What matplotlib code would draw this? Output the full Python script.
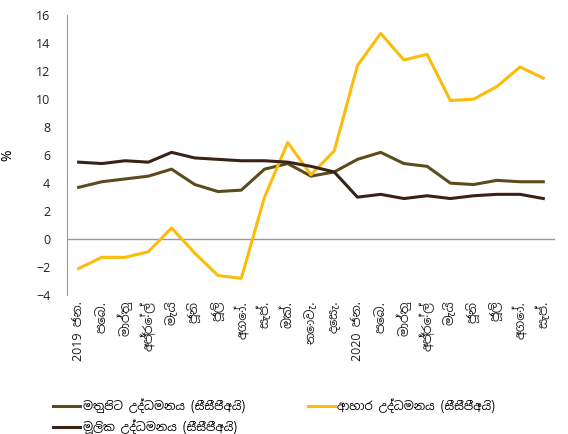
import numpy as np
import matplotlib.pyplot as plt

months = ['2019 ජන.', 'පෙබ.', 'මාර්තු', 'අප්‍රේල්', 'මැයි', 'ජූනි', 'ජූලි', 'අගෝ.',
          'සැප්.', 'ඔක්.', 'නොවැ.', 'දෙසැ.', '2020 ජන.', 'පෙබ.', 'මාර්තු', 'අප්‍රේල්',
          'මැයි', 'ජූනි', 'ජූලි', 'අගෝ.', 'සැප්.']

headline = [3.7, 4.1, 4.3, 4.5, 5.0, 3.9, 3.4, 3.5, 5.0, 5.4, 4.5, 4.8,
            5.7, 6.2, 5.4, 5.2, 4.0, 3.9, 4.2, 4.1, 4.1]
food = [-2.1, -1.3, -1.3, -0.9, 0.8, -1.0, -2.6, -2.8, 3.0, 6.9, 4.6, 6.3,
        12.4, 14.7, 12.8, 13.2, 9.9, 10.0, 10.9, 12.3, 11.5]
core = [5.5, 5.4, 5.6, 5.5, 6.2, 5.8, 5.7, 5.6, 5.6, 5.5, 5.2, 4.8,
        3.0, 3.2, 2.9, 3.1, 2.9, 3.1, 3.2, 3.2, 2.9]

labels = ['මතුපිට උද්ධමනය (සීසීපීඅයි)', 'ආහාර උද්ධමනය (සීසීපීඅයි)',
          'මූලික උද්ධමනය (සීසීපීඅයි)']

plt.rcParams['font.family'] = ['Noto Sans Sinhala', 'Noto Sans', 'DejaVu Sans']

fig = plt.figure(figsize=(5.68, 4.34), dpi=100)
ax = fig.add_axes([0.118, 0.32, 0.859, 0.645])

x = np.arange(len(months))
l1, = ax.plot(x, headline, color='#5c4b1c', lw=2.2, label=labels[0])
l2, = ax.plot(x, food, color='#fbbd0a', lw=2.2, label=labels[1])
l3, = ax.plot(x, core, color='#3a2215', lw=2.2, label=labels[2])

ax.axhline(0, color='#999999', lw=1, zorder=0)
ax.set_xlim(-0.5, len(months) - 0.5)
ax.set_ylim(-4, 16)
ax.set_yticks(np.arange(-4, 17, 2))
ax.set_xticks(x)
ax.set_xticklabels(months, rotation=90, fontsize=9, color='#222222')
ax.tick_params(axis='y', labelsize=9, length=0, pad=12, labelcolor='#222222')
ax.tick_params(axis='x', length=0, pad=4)
for s in ['top', 'right', 'bottom']:
    ax.spines[s].set_visible(False)
ax.spines['left'].set_color('#999999')
ax.set_ylabel('%', fontsize=10)
ax.yaxis.set_label_coords(-0.105, 0.5)

# column-wise fill: headline & core on the left, food on the right
fig.legend(handles=[l1, l3, l2], loc='lower left', bbox_to_anchor=(0.075, -0.025),
           ncol=2, frameon=False, fontsize=8.5, handlelength=2.3,
           handletextpad=0.2, columnspacing=5.3, labelspacing=0.55)

fig.savefig('out.png', dpi=100)
